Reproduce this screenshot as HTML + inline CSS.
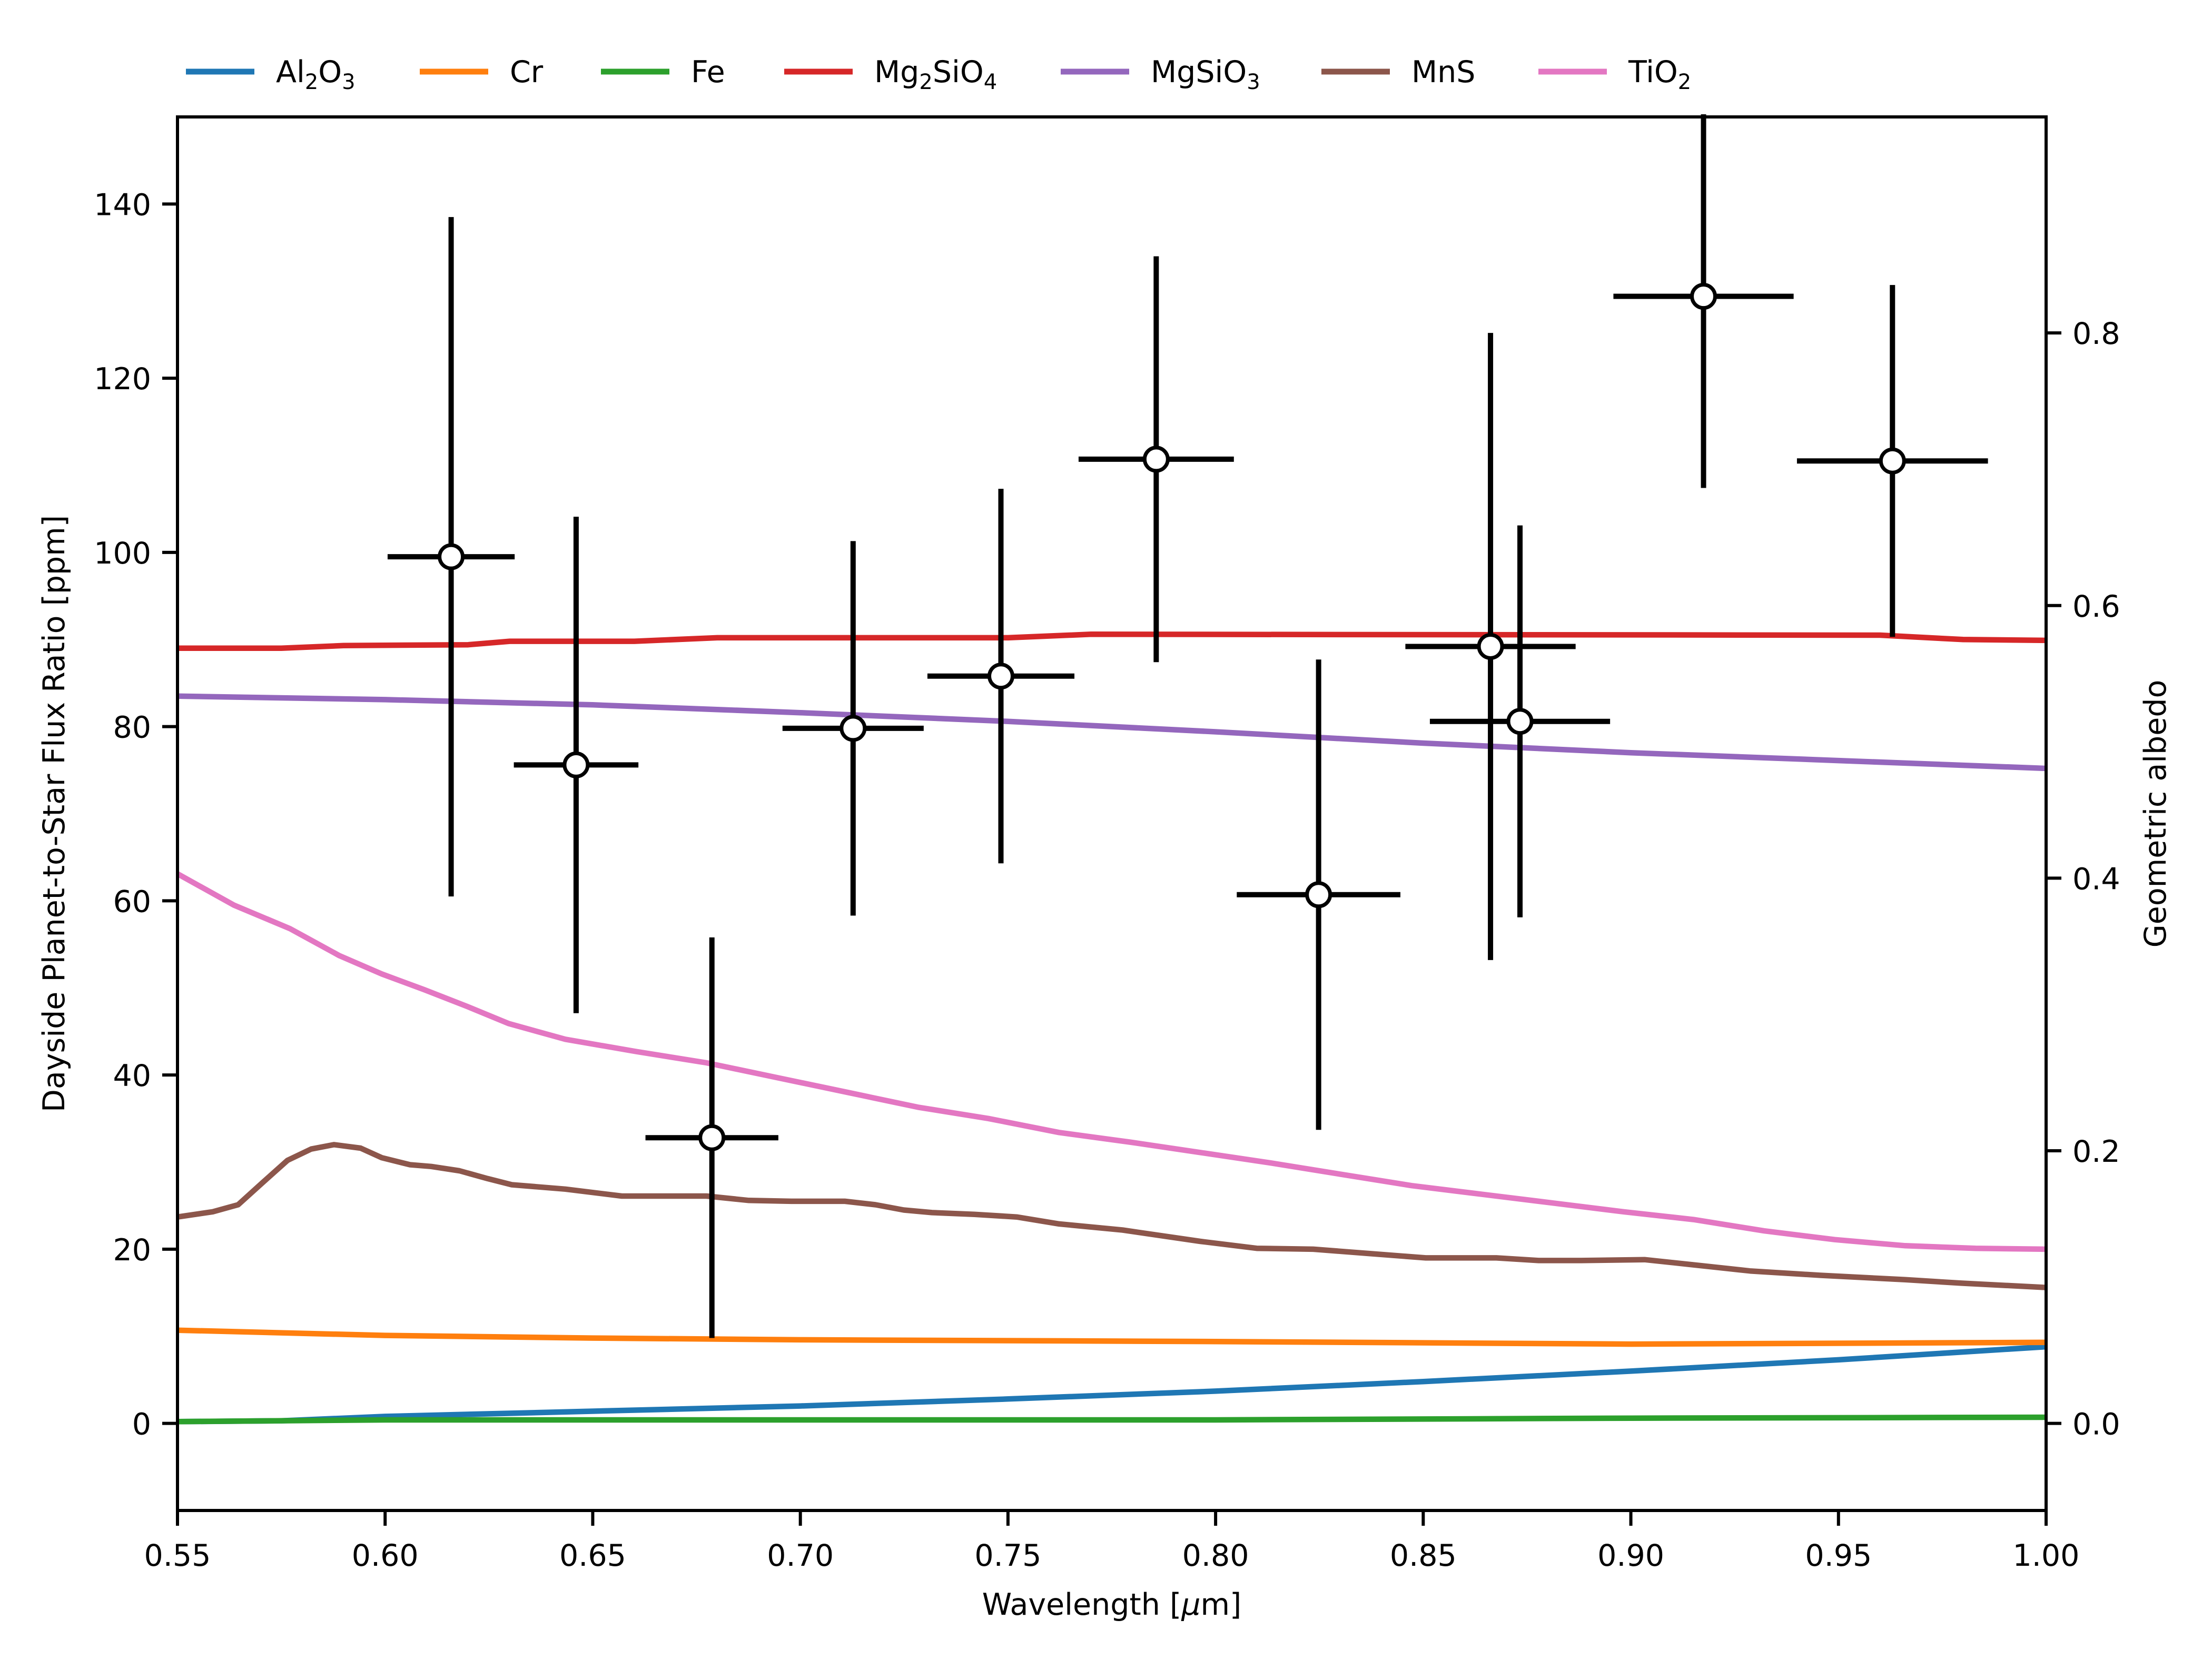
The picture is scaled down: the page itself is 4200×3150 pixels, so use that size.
<!DOCTYPE html>
<html><head><meta charset="utf-8"><style>
html,body{margin:0;padding:0;background:#fff;}
svg{display:block;font-family:"DejaVu Sans","Liberation Sans",sans-serif;}
</style></head><body>
<svg id="chart" width="4200" height="3150" viewBox="0 0 4200 3150" xmlns="http://www.w3.org/2000/svg">
<rect width="4200" height="3150" fill="#fff"/>
<g id="series"></g>
<g id="points"></g>
<g id="axes"></g>
<g id="legend"></g>
</svg>
<script>
const xTicks = [0.55,0.60,0.65,0.70,0.75,0.80,0.85,0.90,0.95,1.00];
const yTicks = [0,20,40,60,80,100,120,140];
const albedoTicks = [0.0,0.2,0.4,0.6,0.8];
const seriesNames = ["Al2O3","Cr","Fe","Mg2SiO4","MgSiO3","MnS","TiO2"];
const seriesColors = ["#1f77b4","#ff7f0e","#2ca02c","#d62728","#9467bd","#8c564b","#e377c2"];

const wlAl2O3 = [0.55,0.575,0.60,0.65,0.70,0.75,0.80,0.85,0.90,0.95,1.00];
const valAl2O3 = [0.2,0.3,0.8,1.4,2.0,2.8,3.7,4.8,6.0,7.3,8.8];
const wlCr = [0.55,0.60,0.65,0.70,0.80,0.90,0.95,1.00];
const valCr = [10.7,10.1,9.8,9.6,9.4,9.1,9.2,9.3];
const wlFe = [0.55,0.60,0.70,0.80,0.90,1.00];
const valFe = [0.2,0.4,0.4,0.4,0.6,0.7];
const wlMg2SiO4 = [0.55,0.575,0.59,0.62,0.63,0.66,0.68,0.75,0.77,0.96,0.98,1.00];
const valMg2SiO4 = [89.0,89.0,89.3,89.4,89.8,89.8,90.2,90.2,90.6,90.5,90.0,89.9];
const wlMgSiO3 = [0.55,0.60,0.65,0.70,0.75,0.80,0.85,0.90,0.95,1.00];
const valMgSiO3 = [83.5,83.1,82.5,81.6,80.6,79.4,78.1,77.0,76.1,75.2];
const wlTiO2 = [0.55,0.5636,0.5771,0.5890,0.5992,0.6094,0.6196,0.6298,0.6434,0.6604,0.6774,0.6944,0.7114,0.7283,0.7453,0.7623,0.7793,0.7963,0.8133,0.8302,0.8472,0.8642,0.8812,0.8982,0.9151,0.9321,0.9491,0.9661,0.9830,1.00];
const valTiO2 = [63.1,59.5,56.8,53.7,51.6,49.8,47.9,45.9,44.1,42.7,41.4,39.7,38.0,36.3,35.0,33.4,32.3,31.1,29.9,28.6,27.3,26.3,25.3,24.3,23.4,22.1,21.1,20.4,20.1,20.0];
const wlMnS = [0.55,0.5585,0.5646,0.5704,0.5765,0.5822,0.5877,0.5941,0.5992,0.6060,0.6111,0.6179,0.6247,0.6305,0.6434,0.6570,0.6774,0.6876,0.6978,0.7107,0.7181,0.7249,0.7317,0.7419,0.7521,0.7623,0.7776,0.7963,0.8099,0.8235,0.8370,0.8506,0.8676,0.8778,0.8880,0.9033,0.9151,0.9287,0.9457,0.9661,0.9796,1.00];
const valMnS = [23.7,24.3,25.1,27.6,30.2,31.5,32.0,31.6,30.5,29.7,29.5,29.0,28.1,27.4,26.9,26.1,26.1,25.6,25.5,25.5,25.1,24.5,24.2,24.0,23.7,22.9,22.2,20.9,20.1,20.0,19.5,19.0,19.0,18.7,18.7,18.8,18.2,17.5,17.0,16.5,16.1,15.6];

const ptWl = [0.6159,0.646,0.6787,0.7127,0.7483,0.7857,0.8248,0.8662,0.8733,0.9175,0.963];
const ptFlux = [99.5,75.6,32.8,79.8,85.8,110.7,60.7,89.2,80.6,129.4,110.5];
const ptWlErr = [0.0153,0.015,0.016,0.017,0.0177,0.0187,0.0197,0.0205,0.0217,0.0217,0.023];
const ptFluxErr = [39,28.5,23,21.5,21.5,23.3,27,36,22.5,22,20.2];

const X0=337, X1=3885, Y_TOP=222, Y_BOT=2868;
const xMin=0.55, xMax=1.00, yMin=-10, yMax=150;
const albedoScale = 156.5; // ppm per unit albedo
function sx(v){return X0+(v-xMin)/(xMax-xMin)*(X1-X0);}
function sy(v){return Y_BOT-(v-yMin)/(yMax-yMin)*(Y_BOT-Y_TOP);}
const NS="http://www.w3.org/2000/svg";
function mk(tag,attrs,parent){const e=document.createElementNS(NS,tag);for(const k in attrs)e.setAttribute(k,attrs[k]);parent.appendChild(e);return e;}

const gS=document.getElementById('series');
const clip=mk('clipPath',{id:'plotclip'},gS);
mk('rect',{x:X0,y:Y_TOP,width:X1-X0,height:Y_BOT-Y_TOP},clip);
const wls=[wlAl2O3,wlCr,wlFe,wlMg2SiO4,wlMgSiO3,wlMnS,wlTiO2];
const vals=[valAl2O3,valCr,valFe,valMg2SiO4,valMgSiO3,valMnS,valTiO2];
for(let i=0;i<seriesNames.length;i++){
  const d=wls[i].map((w,j)=>(j?'L':'M')+sx(w).toFixed(1)+' '+sy(vals[i][j]).toFixed(1)).join(' ');
  const p=mk('path',{d:d,fill:'none',stroke:seriesColors[i],'stroke-width':10.5,'stroke-linejoin':'round','clip-path':'url(#plotclip)'},gS);
  
  
}

const gP=document.getElementById('points');
const pclip=mk('clipPath',{id:'pclip'},gP);
mk('rect',{x:0,y:Y_TOP-5,width:4200,height:Y_BOT-Y_TOP+10},pclip);
for(let i=0;i<ptWl.length;i++){
  const g=mk('g',{'clip-path':'url(#pclip)'},gP);
  
  
  const cx=sx(ptWl[i]), cy=sy(ptFlux[i]);
  mk('line',{x1:sx(ptWl[i]-ptWlErr[i]),x2:sx(ptWl[i]+ptWlErr[i]),y1:cy,y2:cy,stroke:'#000','stroke-width':10},g);
  mk('line',{x1:cx,x2:cx,y1:sy(ptFlux[i]-ptFluxErr[i]),y2:sy(ptFlux[i]+ptFluxErr[i]),stroke:'#000','stroke-width':10},g);
  mk('circle',{cx:cx,cy:cy,r:22,fill:'#fff',stroke:'#000','stroke-width':7},g);
}

const gA=document.getElementById('axes');
const frame=mk('rect',{x:X0,y:Y_TOP,width:X1-X0,height:Y_BOT-Y_TOP,fill:'none',stroke:'#000','stroke-width':6},gA);


xTicks.forEach(t=>{
  const x=sx(t);
  mk('line',{x1:x,x2:x,y1:Y_BOT,y2:Y_BOT+29,stroke:'#000','stroke-width':6},gA);
  const tx=mk('text',{x:x,y:2973,'font-size':57,'text-anchor':'middle'},gA);
  tx.textContent=t.toFixed(2);
  
  
});
yTicks.forEach(t=>{
  const y=sy(t);
  mk('line',{x1:X0-29,x2:X0,y1:y,y2:y,stroke:'#000','stroke-width':6},gA);
  const tx=mk('text',{x:X0-50,y:y+21,'font-size':57,'text-anchor':'end'},gA);
  tx.textContent=String(t);
  
  
});
albedoTicks.forEach(t=>{
  const y=sy(t*albedoScale);
  mk('line',{x1:X1,x2:X1+29,y1:y,y2:y,stroke:'#000','stroke-width':6},gA);
  const tx=mk('text',{x:X1+50,y:y+21,'font-size':57,'text-anchor':'start'},gA);
  tx.textContent=t.toFixed(1);
  
  
});
const xl=mk('text',{x:(X0+X1)/2,y:3066,'font-size':57,'text-anchor':'middle'},gA);
xl.innerHTML='Wavelength [<tspan font-style="italic">μ</tspan>m]';


const yl=mk('text',{x:0,y:0,'font-size':57,'text-anchor':'middle',transform:'translate(122,'+((Y_TOP+Y_BOT)/2)+') rotate(-90)'},gA);
yl.textContent='Dayside Planet-to-Star Flux Ratio [ppm]';


const rl=mk('text',{x:0,y:0,'font-size':57,'text-anchor':'middle',transform:'translate(4112,'+((Y_TOP+Y_BOT)/2)+') rotate(-90)'},gA);
rl.textContent='Geometric albedo';



const gL=document.getElementById('legend');
const legX=[353,797,1141,1489,2014,2509,2921];
const legLabels=['Al<tspan font-size="40" dy="13">2</tspan><tspan dy="-13">O</tspan><tspan font-size="40" dy="13">3</tspan>',
 'Cr','Fe',
 'Mg<tspan font-size="40" dy="13">2</tspan><tspan dy="-13">SiO</tspan><tspan font-size="40" dy="13">4</tspan>',
 'MgSiO<tspan font-size="40" dy="13">3</tspan>','MnS',
 'TiO<tspan font-size="40" dy="13">2</tspan>'];
for(let i=0;i<seriesNames.length;i++){
  const g=mk('g',{},gL);
  
  
  mk('line',{x1:legX[i],x2:legX[i]+130,y1:136,y2:136,stroke:seriesColors[i],'stroke-width':11},g);
  const t=mk('text',{x:legX[i]+171,y:156,'font-size':57},g);
  t.innerHTML=legLabels[i];
}
</script>
</body></html>
